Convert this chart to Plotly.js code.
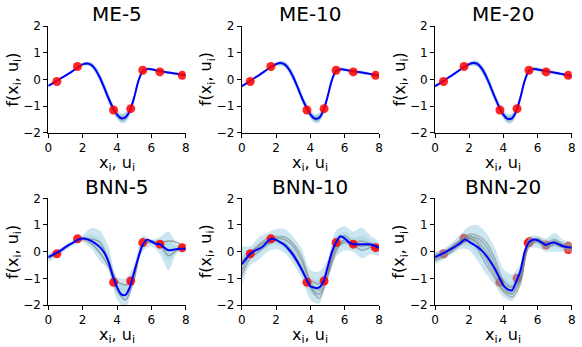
<!DOCTYPE html>
<html>
<head>
<meta charset="utf-8">
<script src="https://cdn.plot.ly/plotly-3.0.1.min.js"></script>
<style>html,body{margin:0;padding:0;background:#fff;}#chart{width:582px;height:347px;}</style>
</head>
<body>
<div id="chart"></div>
<script>
// ---- data ----
const panelTitles = ["ME-5", "ME-10", "ME-20", "BNN-5", "BNN-10", "BNN-20"];
const xTicks = [0, 2, 4, 6, 8];
const yTicks = [-2, -1, 0, 1, 2];

// fine grid (step 0.25) and coarse grid (step 0.5)
const gridFine = [0,0.25,0.5,0.75,1,1.25,1.5,1.75,2,2.25,2.5,2.75,3,3.25,3.5,3.75,4,4.25,4.5,4.75,5,5.25,5.5,5.75,6,6.25,6.5,6.75,7,7.25,7.5,7.75,8];
const gridCoarse = [0,0.5,1,1.5,2,2.5,3,3.5,4,4.5,5,5.5,6,6.5,7,7.5,8];

// observed points
const obsX = [0.5, 1.7, 3.8, 4.8, 5.5, 6.5, 7.8];
const obsY = [-0.08, 0.48, -1.15, -1.1, 0.34, 0.28, 0.15];
const obsX20 = [0.5, 1.7, 3.8, 4.8, 5.45, 5.55, 6.5, 7.8, 7.8];
const obsY20 = [-0.08, 0.5, -1.15, -1.0, 0.32, 0.38, 0.25, 0.08, 0.2];

// ME mean curves (fine grid)
const me5Mean  = [-0.25,-0.15,-0.05,0.05,0.14,0.24,0.35,0.46,0.56,0.59,0.54,0.36,0.07,-0.3,-0.7,-1.05,-1.32,-1.46,-1.42,-1.17,-0.68,-0.05,0.31,0.39,0.38,0.34,0.31,0.28,0.26,0.23,0.21,0.18,0.15];
const me10Mean = [-0.26,-0.16,-0.06,0.05,0.15,0.26,0.38,0.48,0.57,0.61,0.56,0.38,0.09,-0.28,-0.68,-1.03,-1.31,-1.47,-1.45,-1.18,-0.66,-0.04,0.32,0.38,0.36,0.33,0.3,0.28,0.26,0.23,0.2,0.17,0.14];
const me20Mean = [-0.26,-0.16,-0.06,0.05,0.15,0.26,0.38,0.48,0.57,0.61,0.57,0.39,0.1,-0.27,-0.67,-1.03,-1.32,-1.48,-1.46,-1.2,-0.68,-0.05,0.32,0.39,0.37,0.34,0.31,0.28,0.25,0.22,0.19,0.16,0.12];
// ME spread (half-width of band, fine grid)
const me5Spread  = [0.03,0.03,0.03,0.03,0.03,0.03,0.03,0.04,0.05,0.07,0.1,0.13,0.16,0.17,0.17,0.16,0.16,0.18,0.19,0.17,0.14,0.1,0.07,0.05,0.05,0.05,0.05,0.05,0.05,0.05,0.05,0.04,0.04];
const me10Spread = [0.03,0.03,0.03,0.03,0.03,0.04,0.04,0.05,0.07,0.09,0.12,0.14,0.16,0.16,0.16,0.16,0.15,0.16,0.17,0.16,0.14,0.11,0.09,0.07,0.06,0.06,0.06,0.06,0.06,0.06,0.05,0.05,0.05];
const me20Spread = [0.03,0.03,0.03,0.03,0.04,0.04,0.05,0.06,0.08,0.1,0.12,0.15,0.17,0.17,0.17,0.16,0.16,0.17,0.17,0.16,0.15,0.12,0.1,0.08,0.07,0.07,0.06,0.06,0.06,0.06,0.06,0.06,0.06];

// BNN mean curves (fine grid)
const bnn5Mean  = [-0.2,-0.12,-0.04,0.06,0.17,0.27,0.36,0.45,0.49,0.47,0.4,0.3,0.17,-0.03,-0.37,-0.9,-1.32,-1.6,-1.62,-1.33,-0.76,-0.2,0.25,0.45,0.38,0.29,0.28,0.15,0.05,0.07,0.1,0.11,0.11];
const bnn10Mean = [-0.48,-0.28,-0.08,0.03,0.1,0.2,0.38,0.48,0.44,0.35,0.25,0.08,-0.12,-0.38,-0.68,-1.0,-1.3,-1.35,-1.35,-1.14,-0.6,-0.02,0.35,0.58,0.5,0.35,0.28,0.28,0.28,0.28,0.27,0.22,0.14];
const bnn20Mean = [-0.2,-0.13,-0.05,0.03,0.12,0.22,0.33,0.46,0.37,0.27,0.17,0.03,-0.15,-0.38,-0.64,-0.95,-1.26,-1.41,-1.45,-1.12,-0.72,0.0,0.36,0.45,0.43,0.34,0.25,0.32,0.34,0.27,0.2,0.17,0.16];

// BNN outer bands (coarse grid)
const bnn5Upper  = [-0.05,0.05,0.25,0.45,0.62,0.88,0.78,0.2,-0.95,-1.0,-0.5,0.6,0.45,0.55,0.75,0.3,0.25];
const bnn5Lower  = [-0.4,-0.2,0.05,0.25,0.35,0.1,-0.35,-0.7,-1.8,-2.1,-1.0,0.0,0.2,-0.1,-0.7,-0.05,0.0];
const bnn10Upper = [0.2,0.2,0.55,0.7,0.85,0.85,0.55,0.1,-0.7,-0.75,-0.3,0.8,0.95,0.75,0.9,0.6,0.35];
const bnn10Lower = [-1.25,-0.5,-0.3,0.0,0.1,-0.05,-0.45,-1.0,-1.8,-1.95,-1.1,-0.2,0.05,0.0,-0.25,-0.1,-0.15];
const bnn20Upper = [0.0,0.1,0.35,0.65,0.95,1.0,0.7,0.15,-0.65,-0.85,-0.45,0.55,0.6,0.5,0.7,0.45,0.35];
const bnn20Lower = [-0.45,-0.3,-0.1,0.1,0.05,-0.35,-0.85,-1.25,-1.7,-1.85,-1.3,0.1,0.15,0.0,0.0,0.0,0.0];

// BNN gray sample curves (coarse grid)
const bnn5Samples = [
  [-0.2,-0.05,0.15,0.38,0.5,0.48,0.35,-0.3,-1.1,-1.25,-0.85,0.3,0.4,0.35,0.4,0.35,0.15],
  [-0.25,-0.08,0.15,0.35,0.45,0.3,-0.05,-0.55,-1.45,-1.8,-1.05,0.3,0.35,0.25,-0.15,0.05,0.1]
];
const bnn10Samples = [
  [-0.35,-0.05,0.2,0.4,0.5,0.45,0.2,-0.35,-1.15,-1.45,-0.7,0.2,0.45,0.3,0.2,0.3,0.15],
  [-0.7,-0.15,0.1,0.3,0.4,0.3,-0.05,-0.6,-1.3,-1.6,-0.9,0.1,0.35,0.25,0.05,0.15,0.1],
  [-0.4,-0.05,0.25,0.5,0.55,0.55,0.3,-0.2,-1.05,-1.2,-0.8,0.35,0.6,0.35,0.4,0.3,0.15],
  [-0.9,-0.25,0.0,0.25,0.45,0.25,-0.2,-0.7,-1.35,-1.75,-0.95,0.0,0.45,0.2,0.25,0.2,0.05]
];
const bnn20Samples = [
  [-0.15,-0.05,0.2,0.45,0.55,0.5,0.2,-0.45,-1.2,-1.35,-1.0,0.3,0.45,0.3,0.35,0.25,0.15],
  [-0.3,-0.15,0.05,0.3,0.5,0.3,-0.3,-0.9,-1.45,-1.55,-1.05,0.35,0.4,0.2,0.3,0.2,0.1],
  [-0.2,-0.1,0.15,0.4,0.65,0.6,0.35,-0.25,-1.1,-1.3,-0.9,0.25,0.5,0.35,0.45,0.3,0.2],
  [-0.35,-0.2,0.0,0.25,0.45,0.1,-0.5,-1.0,-1.5,-1.7,-1.2,0.3,0.35,0.15,0.25,0.15,0.1],
  [-0.25,-0.1,0.1,0.35,0.6,0.4,0.0,-0.6,-1.3,-1.45,-1.1,0.4,0.45,0.25,0.4,0.25,0.15],
  [-0.1,0.0,0.2,0.4,0.5,0.3,-0.15,-0.75,-1.35,-1.6,-1.0,0.2,0.4,0.3,0.3,0.2,0.15]
];

// ---- build figure ----
const FONT = "DejaVu Sans, Liberation Sans, sans-serif";
const BAND = "rgba(140,200,222,0.45)";
const BAND_IN = "rgba(140,200,222,0.35)";
const traces = [];

function ax(i) { return i === 0 ? "" : String(i + 1); }

function bandTrace(i, xs, upper, lower, color) {
  return {
    x: xs.concat(xs.slice().reverse()),
    y: upper.concat(lower.slice().reverse()),
    xaxis: "x" + ax(i), yaxis: "y" + ax(i),
    type: "scatter", mode: "lines", fill: "toself", fillcolor: color,
    line: {width: 0, shape: "spline", smoothing: 0.8}, hoverinfo: "skip", showlegend: false
  };
}
function lineTrace(i, xs, ys, color, w) {
  return {x: xs, y: ys, xaxis: "x" + ax(i), yaxis: "y" + ax(i), type: "scatter", mode: "lines",
    line: {color: color, width: w, shape: "spline", smoothing: 0.8}, showlegend: false};
}
function pointTrace(i, xs, ys, col) {
  return {x: xs, y: ys, xaxis: "x" + ax(i), yaxis: "y" + ax(i), type: "scatter", mode: "markers",
    marker: {color: col || "rgba(255,0,0,0.85)", size: 9}, showlegend: false};
}

// ME panels
[[me5Mean, me5Spread], [me10Mean, me10Spread], [me20Mean, me20Spread]].forEach((p, i) => {
  const [m, s] = p;
  const up = m.map((v, k) => v + s[k]), lo = m.map((v, k) => v - s[k]);
  const upIn = m.map((v, k) => v + s[k] * 0.55), loIn = m.map((v, k) => v - s[k] * 0.55);
  traces.push(bandTrace(i, gridFine, up, lo, "rgba(150,205,222,0.7)"));
  traces.push(bandTrace(i, gridFine, upIn, loIn, "rgba(115,160,170,0.55)"));
  traces.push(lineTrace(i, gridFine, m, "#0000ff", 2));
  traces.push(pointTrace(i, obsX, obsY));
});

// BNN panels
const bnn = [
  [bnn5Mean, bnn5Upper, bnn5Lower, bnn5Samples, "rgba(128,128,128,0.7)"],
  [bnn10Mean, bnn10Upper, bnn10Lower, bnn10Samples, "rgba(128,128,128,0.6)"],
  [bnn20Mean, bnn20Upper, bnn20Lower, bnn20Samples, "rgba(128,128,128,0.5)"]
];
bnn.forEach((p, j) => {
  const i = j + 3;
  const [m, up, lo, samples, gcol] = p;
  const mc = gridCoarse.map(x => m[gridFine.indexOf(x)]);
  const upIn = up.map((v, k) => (v + mc[k]) / 2), loIn = lo.map((v, k) => (v + mc[k]) / 2);
  if (j === 2) traces.push(pointTrace(i, obsX20, obsY20, "rgba(255,0,0,0.9)"));
  traces.push(bandTrace(i, gridCoarse, up, lo, BAND));
  traces.push(bandTrace(i, gridCoarse, upIn, loIn, BAND_IN));
  samples.forEach(s => traces.push(lineTrace(i, gridCoarse, s, gcol, 1.4)));
  if (j !== 2) traces.push(pointTrace(i, obsX, obsY));
  traces.push(lineTrace(i, gridFine, m, "#0000ff", 2));
});

// ---- layout ----
const W = 582, H = 347;
const colPx = [[48.3, 185.7], [241.7, 379], [435, 571.7]];
const rowPx = [[26, 132.7], [198.3, 305]];
const layout = {
  width: W, height: H, margin: {l: 0, r: 0, t: 0, b: 0},
  paper_bgcolor: "#fff", plot_bgcolor: "#fff",
  font: {family: FONT, color: "#000", size: 12},
  showlegend: false, annotations: []
};
for (let i = 0; i < 6; i++) {
  const c = i % 3, r = Math.floor(i / 3);
  const xd = [colPx[c][0] / W, colPx[c][1] / W];
  const yd = [1 - rowPx[r][1] / H, 1 - rowPx[r][0] / H];
  const common = {showgrid: false, zeroline: false, showline: true, linecolor: "#000", linewidth: 1,
    ticks: "outside", ticklen: 4, tickwidth: 1, tickcolor: "#000", tickfont: {family: FONT, size: 12, color: "#000"},
    fixedrange: true};
  layout["xaxis" + ax(i)] = Object.assign({}, common, {domain: xd, range: [0, 8], tickvals: xTicks,
    anchor: "y" + ax(i)});
  layout["yaxis" + ax(i)] = Object.assign({}, common, {domain: yd, range: [-2, 2], tickvals: yTicks,
    anchor: "x" + ax(i)});
  const cx = (xd[0] + xd[1]) / 2;
  const titleY = r === 0 ? 14 : 186.5;
  layout.annotations.push({text: panelTitles[i], xref: "paper", yref: "paper", x: cx, y: 1 - titleY / H,
    xanchor: "center", yanchor: "middle", showarrow: false, font: {family: FONT, size: 20, color: "#000"}});
  const xlY = r === 0 ? 163 : 335;
  layout.annotations.push({text: "x<sub>i</sub>, u<sub>i</sub>", xref: "paper", yref: "paper", x: cx, y: 1 - xlY / H,
    xanchor: "center", yanchor: "middle", height: 17, showarrow: false, font: {family: FONT, size: 16, color: "#000"}});
  const ylX = colPx[c][0] - 35;
  const ylY = (rowPx[r][0] + rowPx[r][1]) / 2;
  layout.annotations.push({text: "f(x<sub>i</sub>, u<sub>i</sub>)", xref: "paper", yref: "paper", x: ylX / W, y: 1 - ylY / H,
    xanchor: "center", yanchor: "middle", textangle: -90, showarrow: false, font: {family: FONT, size: 16, color: "#000"}});
}

Plotly.newPlot("chart", traces, layout, {displayModeBar: false, staticPlot: true});
</script>
</body>
</html>
